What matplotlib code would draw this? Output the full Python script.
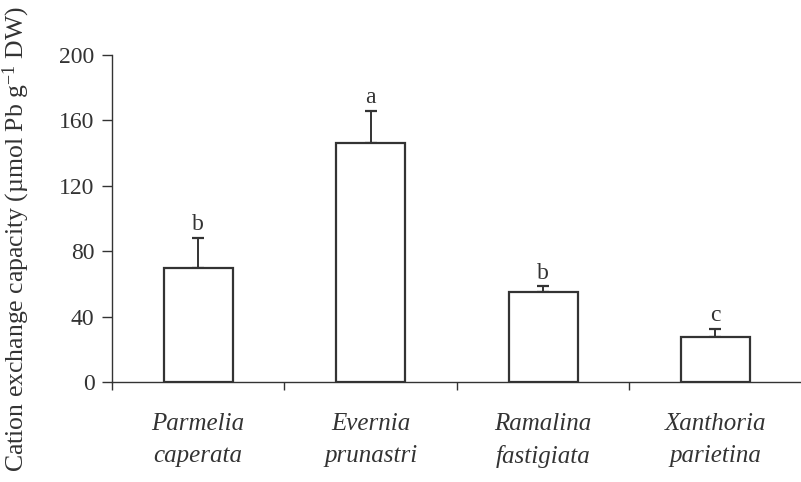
import numpy as np
import matplotlib
matplotlib.use('Agg')
import matplotlib.pyplot as plt

# Cation exchange capacity per lichen species
species = ['Parmelia\ncaperata', 'Evernia\nprunastri', 'Ramalina\nfastigiata', 'Xanthoria\nparietina']
cec = [70, 146, 55, 27.5]
cec_err = [18, 20, 3.5, 5]
letters = ['b', 'a', 'b', 'c']

plt.rcParams['font.family'] = ['Liberation Serif', 'DejaVu Serif']
plt.rcParams['mathtext.fontset'] = 'custom'
plt.rcParams['mathtext.rm'] = 'Liberation Serif'
plt.rcParams['mathtext.it'] = 'Liberation Serif:italic'

ink = '#333333'
fig = plt.figure(figsize=(8.01, 4.82), dpi=100)
ax = fig.add_axes([0.1398, 0.2075, 0.861, 0.6785])

x = np.arange(len(species))
ax.bar(x, cec, width=0.4, color='white', edgecolor=ink, linewidth=1.6, zorder=3)
ax.errorbar(x, cec, yerr=[np.zeros(len(cec)), cec_err], fmt='none',
            ecolor=ink, elinewidth=1.4, capsize=4.5, capthick=1.6, zorder=2)

for xi, v, e, lab in zip(x, cec, cec_err, letters):
    ax.annotate(lab, (xi, v + e), xytext=(0, 2), textcoords='offset points',
                ha='center', va='bottom', fontsize=17, color=ink)

ax.set_xlim(-0.5, 3.43)
ax.set_ylim(0, 200)
ax.set_yticks(np.arange(0, 201, 40))

# boundary ticks on the x axis, species names centred under each bar
ax.set_xticks(np.arange(-0.5, 3.6, 1.0))
ax.set_xticklabels([])
ax.set_xticks(x, minor=True)
ax.set_xticklabels(species, minor=True, fontsize=18, style='italic', color=ink,
                   linespacing=1.6)
ax.tick_params(axis='x', which='minor', length=0, pad=22)
ax.tick_params(axis='x', which='major', direction='out', length=6, width=1, color=ink)
ax.tick_params(axis='y', direction='out', length=7, width=1, color=ink,
               labelsize=17, labelcolor=ink, pad=5.5)

for side in ['top', 'right']:
    ax.spines[side].set_visible(False)
for side in ['left', 'bottom']:
    ax.spines[side].set_color(ink)
    ax.spines[side].set_linewidth(1.0)

fig.text(0.02, 0.505, 'Cation exchange capacity (µmol Pb g$^{-1}$ DW)',
         rotation=90, ha='center', va='center', fontsize=18.5, color=ink)

fig.savefig('out.png', dpi=100)
